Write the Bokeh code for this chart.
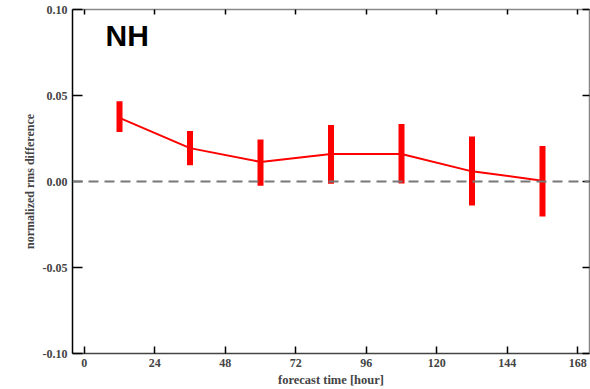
from bokeh.plotting import figure
from bokeh.models import LinearAxis, FixedTicker, Span, Label, ColumnDataSource, CustomJSTickFormatter
from bokeh.embed import file_html
from bokeh.resources import INLINE

# data
forecast_hours = [12, 36, 60, 84, 108, 132, 156]
rms_diff = [0.037, 0.0194, 0.0114, 0.016, 0.016, 0.0059, 0.0005]
err_upper = [0.0467, 0.0294, 0.0244, 0.0329, 0.0334, 0.0261, 0.0206]
err_lower = [0.0288, 0.0094, -0.0025, -0.0013, -0.0012, -0.014, -0.0204]
x_ticks = [0, 24, 48, 72, 96, 120, 144, 168]
y_ticks = [-0.10, -0.05, 0.0, 0.05, 0.10]
region_label = "NH"

src = ColumnDataSource(dict(x=forecast_hours, y=rms_diff, hi=err_upper, lo=err_lower))

p = figure(width=590, height=389, x_range=(-4, 172), y_range=(-0.1, 0.1),
           output_backend="svg", toolbar_location=None, x_axis_location=None,
           y_axis_location=None,
           min_border_left=72, min_border_right=1, min_border_top=9, min_border_bottom=33)
p.grid.visible = False
p.outline_line_color = None
p.background_fill_color = "white"

serif = "Liberation Serif"

left = LinearAxis(ticker=FixedTicker(ticks=y_ticks), axis_label="normalized rms difference")
left.formatter = CustomJSTickFormatter(code="return tick.toFixed(2);")
left.major_tick_in = 10
left.major_tick_out = 0
left.minor_tick_line_color = None
left.axis_line_color = "black"
left.axis_line_width = 1.5
left.major_tick_line_width = 1.5
left.major_label_text_font = serif
left.major_label_text_font_style = "bold"
left.major_label_text_font_size = "12px"
left.major_label_standoff = 5
left.axis_label_text_font = serif
left.axis_label_text_font_style = "bold"
left.axis_label_text_font_size = "12px"
left.axis_label_standoff = 3
p.add_layout(left, "left")

bottom = LinearAxis(ticker=FixedTicker(ticks=x_ticks), axis_label="forecast time [hour]")
bottom.major_tick_in = 7
bottom.major_tick_out = 0
bottom.minor_tick_line_color = None
bottom.axis_line_color = "#444444"
bottom.axis_line_width = 1.5
bottom.major_tick_line_width = 1.5
bottom.major_label_text_font = serif
bottom.major_label_text_font_style = "bold"
bottom.major_label_text_font_size = "12px"
bottom.major_label_standoff = 5
bottom.axis_label_text_font = serif
bottom.axis_label_text_font_style = "bold"
bottom.axis_label_text_font_size = "12.5px"
bottom.axis_label_standoff = 3
p.add_layout(bottom, "below")

blank = CustomJSTickFormatter(code="return '';")

top = LinearAxis(ticker=FixedTicker(ticks=x_ticks), formatter=blank)
top.major_tick_in = 5
top.major_tick_out = 0
top.minor_tick_line_color = None
top.axis_line_color = "#888888"
top.axis_line_width = 1.5
top.major_tick_line_color = "black"
top.major_tick_line_width = 1.5
top.major_label_standoff = 0
p.add_layout(top, "above")

right = LinearAxis(ticker=FixedTicker(ticks=y_ticks), formatter=blank)
right.major_tick_in = 7
right.major_tick_out = 0
right.minor_tick_line_color = None
right.axis_line_color = "#888888"
right.axis_line_width = 1.5
right.major_tick_line_color = "black"
right.major_tick_line_width = 1.5
right.major_label_standoff = 0
p.add_layout(right, "right")

p.add_layout(Span(location=0, dimension="width", line_color="#777777",
                  line_width=2, line_dash="10 6"))

p.line("x", "y", source=src, line_color="red", line_width=2)
p.segment(x0="x", y0="lo", x1="x", y1="hi", source=src, line_color="red",
          line_width=6, line_cap="butt")

p.add_layout(Label(x=33, y=302, x_units="screen", y_units="screen", text=region_label,
                   text_font="Liberation Sans", text_font_style="bold",
                   text_font_size="30px", text_color="black"))

open("out.html", "w").write(file_html(p, INLINE))
